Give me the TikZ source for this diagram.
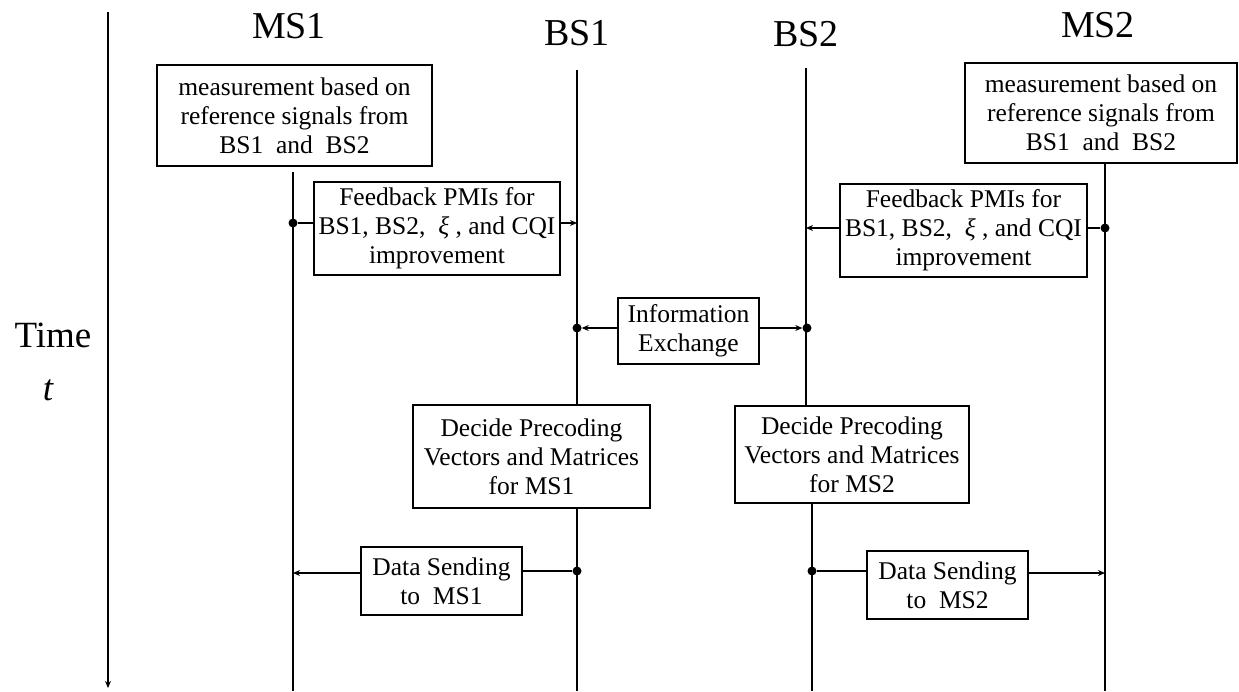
\documentclass[tikz,border=0pt]{standalone}
\usepackage{fontspec}
\setmainfont{Liberation Serif}
\usetikzlibrary{arrows.meta}
\begin{document}
\begin{tikzpicture}[x=1pt,y=-1pt,
  box/.style={draw,line width=1.2pt,align=center,inner sep=0pt,font=\fontsize{25.5}{29}\selectfont},
  life/.style={line width=1.3pt},
  dot/.style={circle,fill,inner sep=0pt,minimum size=9pt},
  arr/.style={line width=1.2pt,-{Stealth[length=7pt,width=6pt]}},
  title/.style={font=\fontsize{38}{42}\selectfont}]
\useasboundingbox (0,0) rectangle (1239,691);
% titles
\node[title] (tms1) at (289,26) {MS1};
\node[title] (tbs1) at (577,33) {BS1};
\node[title] (tbs2) at (806,34) {BS2};
\node[title] (tms2) at (1098,25) {MS2};
\node[font=\fontsize{37}{40}\selectfont] (time) at (53,335) {Time};
\node[font=\fontsize{37}{40}\selectfont\itshape] (tt) at (48,390) {t};
% time axis
\coordinate (t0) at (108,12);
\coordinate (t1) at (108,688);
\draw[arr] (t0) -- (t1);
% boxes
\node[box,minimum width=275pt,minimum height=101pt] (m1) at (294.5,115.5) {measurement based on\\reference signals from\\BS1\ \ and\ \ BS2};
\node[box,minimum width=272pt,minimum height=100pt] (m2) at (1101,113) {measurement based on\\reference signals from\\BS1\ \ and\ \ BS2};
\node[box,minimum width=246pt,minimum height=93pt] (f1) at (437,228.5) {Feedback PMIs for\\BS1, BS2,\ \ \textit{ξ} , and CQI\\improvement};
\node[box,minimum width=247pt,minimum height=93pt] (f2) at (963.5,230.5) {Feedback PMIs for\\BS1, BS2,\ \ \textit{ξ} , and CQI\\improvement};
\node[box,minimum width=141pt,minimum height=66pt] (ie) at (688.5,331) {Information\\Exchange};
\node[box,minimum width=237pt,minimum height=103pt] (d1) at (531.5,456.5) {Decide Precoding\\Vectors and Matrices\\for MS1};
\node[box,minimum width=234pt,minimum height=97pt] (d2) at (852,454.5) {Decide Precoding\\Vectors and Matrices\\for MS2};
\node[box,minimum width=161pt,minimum height=68pt] (s1) at (441.5,581) {Data Sending\\to\ \ MS1};
\node[box,minimum width=161pt,minimum height=68pt] (s2) at (947.5,585) {Data Sending\\to\ \ MS2};
% lifelines
\coordinate (ms1top) at (293,172);
\coordinate (ms1bot) at (293,691);
\coordinate (bs1top) at (577,70);
\coordinate (bs1bot) at (577,691);
\coordinate (bs2top) at (806,68);
\coordinate (bs2bot) at (812,691);
\coordinate (ms2top) at (1105,163);
\coordinate (ms2bot) at (1105,691);
\draw[life] (ms1top) -- (ms1bot);
\draw[life] (bs1top) -- (bs1top |- d1.north);
\draw[life] (bs1bot |- d1.south) -- (bs1bot);
\draw[life] (bs2top) -- (bs2top |- d2.north);
\draw[life] (bs2bot |- d2.south) -- (bs2bot);
\draw[life] (ms2top) -- (ms2bot);
% feedback
\node[dot] (p1) at (293,223) {};
\draw[life] (p1) -- (p1 -| f1.west);
\coordinate (q1) at (577,223);
\draw[arr] (q1 -| f1.east) -- (q1);
\node[dot] (p2) at (1105,228) {};
\draw[life] (p2) -- (p2 -| f2.east);
\coordinate (q2) at (806,228);
\draw[arr] (q2 -| f2.west) -- (q2);
% information exchange
\node[dot] (p3) at (577,328) {};
\node[dot] (p4) at (807,328) {};
\draw[arr] (p3 -| ie.west) -- (p3);
\draw[arr] (p4 -| ie.east) -- (p4);
% data sending
\node[dot] (p5) at (577,571) {};
\draw[life] (p5) -- (p5 -| s1.east);
\coordinate (q5) at (293,573);
\draw[arr] (q5 -| s1.west) -- (q5);
\node[dot] (p6) at (812,571) {};
\draw[life] (p6) -- (p6 -| s2.west);
\coordinate (q6) at (1105,573);
\draw[arr] (q6 -| s2.east) -- (q6);
\end{tikzpicture}
\end{document}
